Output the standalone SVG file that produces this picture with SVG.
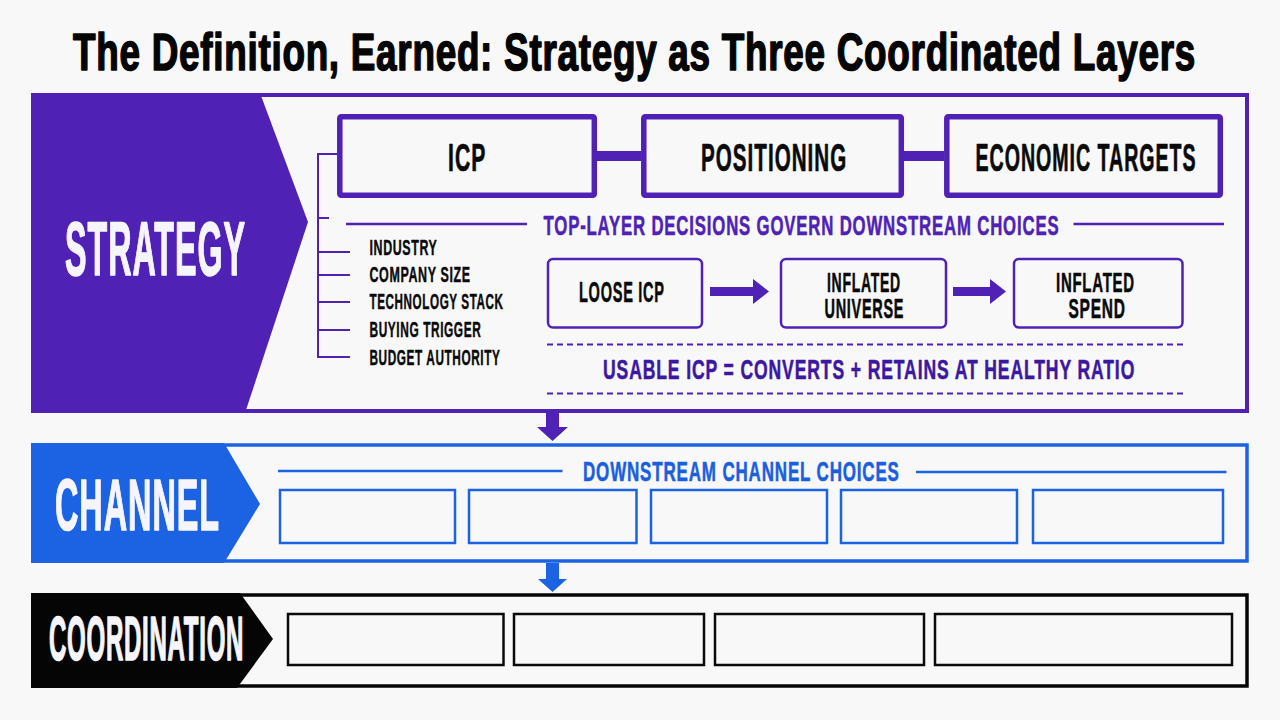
<svg xmlns="http://www.w3.org/2000/svg" width="1280" height="720" viewBox="0 0 1280 720">
<style>
text{font-family:"Liberation Sans Narrow","Liberation Sans",Arial,sans-serif;font-weight:700;stroke-linejoin:round;letter-spacing:.05em}
.title{font-size:51px;fill:#050505;stroke:#050505;stroke-width:1.6px;letter-spacing:.02em}
.big{fill:#f6f5fb;stroke:#f6f5fb;stroke-width:1.6px;letter-spacing:.03em}
.main{font-size:39px;fill:#0a0a0a;stroke:#0a0a0a;stroke-width:.7px}
.list{font-size:22px;fill:#0a0a0a;stroke:#0a0a0a;stroke-width:.45px}
.mid{font-size:27px;fill:#0a0a0a;stroke:#0a0a0a;stroke-width:.55px}
.sub{font-size:27px;stroke-width:.55px}
.p{fill:#4f22b5;stroke:#4f22b5}.pd{fill:#3c18a0;stroke:#3c18a0}.b{fill:#1b5fdf;stroke:#1b5fdf}
.panel{fill:none;stroke-width:3.5px}
.top{fill:#f8f8f9;stroke:#4f22b5;stroke-width:5.5px;rx:1.5px}
.flow{fill:#f8f8f9;stroke:#4f22b5;stroke-width:2.5px}
.cb{fill:none;stroke:#1b63e3;stroke-width:2.5px}
.kb{fill:none;stroke:#0a0a0a;stroke-width:2.5px}
.tree{fill:none;stroke:#4f22b5;stroke-width:2px}
</style>
<rect width="1280" height="720" fill="#f8f8f9"/>
<text id="title" class="title" transform="translate(73 70) scale(.766 1)" textLength="1466" lengthAdjust="spacingAndGlyphs">The Definition, Earned: Strategy as Three Coordinated Layers</text>
<g id="strategy-layer">
<rect class="panel" x="33" y="95" width="1214" height="316" stroke="#4f22b5" style="stroke-width:4px"/>
<polygon points="31,93 260,93 308,222 245,413 31,413" fill="#4f22b5"/>
<text class="big" transform="translate(65 275) scale(.507 1)" font-size="76" textLength="357" lengthAdjust="spacingAndGlyphs">STRATEGY</text>
</g>
<g id="channel-layer">
<rect class="panel" x="33" y="445" width="1214" height="116" stroke="#1b63e3"/>
<polygon points="31,443 224,443 260,504 224,563 31,563" fill="#1b63e3"/>
<text class="big" transform="translate(55 530) scale(.536 1)" font-size="73" textLength="308" lengthAdjust="spacingAndGlyphs">CHANNEL</text>
</g>
<g id="coordination-layer">
<rect class="panel" x="33" y="595" width="1214" height="91" stroke="#050505"/>
<polygon points="31,593 240,593 273,639 237,688 31,688" fill="#050505"/>
<text class="big" transform="translate(49 660) scale(.468 1)" font-size="63" textLength="417" lengthAdjust="spacingAndGlyphs">COORDINATION</text>
</g>
<g id="connectors">
<rect x="597" y="151" width="44" height="10" fill="#4f22b5"/>
<rect x="904" y="151" width="40" height="10" fill="#4f22b5"/>
<path class="tree" d="M337 154H318V357H350M318 218H329M318 252H350M318 275H350M318 302H350M318 330H350"/>
<polygon points="710,287 753,287 753,279 769,291.500 753,304 753,296 710,296" fill="#4f22b5"/>
<polygon points="953,287 990,287 990,279 1006,291.500 990,304 990,296 953,296" fill="#4f22b5"/>
<polygon points="546,413 559,413 559,427 568,427 552.500,441 537,427 546,427" fill="#4f22b5"/>
<polygon points="546,563 559,563 559,579 567,579 552.500,592 538,579 546,579" fill="#1b63e3"/>
</g>
<g id="icp"><rect class="top" x="339.800" y="116.800" width="254.500" height="78.500"/><text class="main" transform="translate(448 171) scale(.65 1)" textLength="59" lengthAdjust="spacingAndGlyphs">ICP</text></g>
<g id="positioning"><rect class="top" x="643.800" y="116.800" width="257.500" height="78.500"/><text class="main" transform="translate(701 171) scale(.71 1)" textLength="206" lengthAdjust="spacingAndGlyphs">POSITIONING</text></g>
<g id="economic-targets"><rect class="top" x="946.800" y="116.800" width="273.500" height="78.500"/><text class="main" transform="translate(975.500 171) scale(.63 1)" textLength="351" lengthAdjust="spacingAndGlyphs">ECONOMIC TARGETS</text></g>
<g id="governance-note">
<line x1="346" y1="224" x2="527" y2="224" stroke="#4f22b5" stroke-width="2.500"/>
<line x1="1073.500" y1="224" x2="1224" y2="224" stroke="#4f22b5" stroke-width="2.500"/>
<text class="sub p" transform="translate(543.500 235) scale(.7 1)" textLength="737" lengthAdjust="spacingAndGlyphs">TOP-LAYER DECISIONS GOVERN DOWNSTREAM CHOICES</text>
</g>
<g id="icp-attributes">
<text class="list" transform="translate(369.500 255) scale(.67 1)" textLength="101.500" lengthAdjust="spacingAndGlyphs">INDUSTRY</text>
<text class="list" transform="translate(369.500 282) scale(.67 1)" textLength="151" lengthAdjust="spacingAndGlyphs">COMPANY SIZE</text>
<text class="list" transform="translate(369.500 309) scale(.67 1)" textLength="200" lengthAdjust="spacingAndGlyphs">TECHNOLOGY STACK</text>
<text class="list" transform="translate(369.500 337) scale(.67 1)" textLength="167" lengthAdjust="spacingAndGlyphs">BUYING TRIGGER</text>
<text class="list" transform="translate(369.500 365) scale(.67 1)" textLength="195.500" lengthAdjust="spacingAndGlyphs">BUDGET AUTHORITY</text>
</g>
<g id="loose-icp"><rect class="flow" x="548" y="259" width="154" height="68.500" rx="5"/><text class="mid" transform="translate(579 302) scale(.6 1)" style="font-size:29px" textLength="143" lengthAdjust="spacingAndGlyphs">LOOSE ICP</text></g>
<g id="inflated-universe"><rect class="flow" x="781" y="259" width="165" height="68.500" rx="5"/><text class="mid" transform="translate(827 292) scale(.62 1)" textLength="119" lengthAdjust="spacingAndGlyphs">INFLATED</text><text class="mid" transform="translate(824.500 317.500) scale(.67 1)" textLength="119" lengthAdjust="spacingAndGlyphs">UNIVERSE</text></g>
<g id="inflated-spend"><rect class="flow" x="1014" y="259" width="168.500" height="68.500" rx="5"/><text class="mid" transform="translate(1056 292) scale(.66 1)" textLength="119.500" lengthAdjust="spacingAndGlyphs">INFLATED</text><text class="mid" transform="translate(1068.500 317.500) scale(.69 1)" textLength="83" lengthAdjust="spacingAndGlyphs">SPEND</text></g>
<g id="usable-icp">
<line x1="547" y1="344.500" x2="1183" y2="344.500" stroke="#4f22b5" stroke-width="2" stroke-dasharray="6 4"/>
<text class="sub pd" transform="translate(603 379) scale(.73 1)" style="font-size:28px" textLength="729" lengthAdjust="spacingAndGlyphs">USABLE ICP = CONVERTS + RETAINS AT HEALTHY RATIO</text>
<line x1="547" y1="393.500" x2="1183" y2="393.500" stroke="#4f22b5" stroke-width="2" stroke-dasharray="6 4"/>
</g>
<g id="channel-choices">
<line x1="278" y1="471" x2="562.500" y2="471" stroke="#1b63e3" stroke-width="2.500"/>
<line x1="916" y1="472" x2="1226.500" y2="472" stroke="#1b63e3" stroke-width="2.500"/>
<text class="sub b" transform="translate(583 481) scale(.72 1)" textLength="440" lengthAdjust="spacingAndGlyphs">DOWNSTREAM CHANNEL CHOICES</text>
<rect class="cb" x="280" y="490" width="175" height="53"/>
<rect class="cb" x="469" y="490" width="167.500" height="53"/>
<rect class="cb" x="651" y="490" width="176" height="53"/>
<rect class="cb" x="841" y="490" width="176" height="53"/>
<rect class="cb" x="1033" y="490" width="190" height="53"/>
</g>
<g id="coordination-slots">
<rect class="kb" x="288" y="614" width="215.500" height="51"/>
<rect class="kb" x="514" y="614" width="190" height="51"/>
<rect class="kb" x="715" y="614" width="209" height="51"/>
<rect class="kb" x="935" y="614" width="297" height="51"/>
</g>
</svg>
